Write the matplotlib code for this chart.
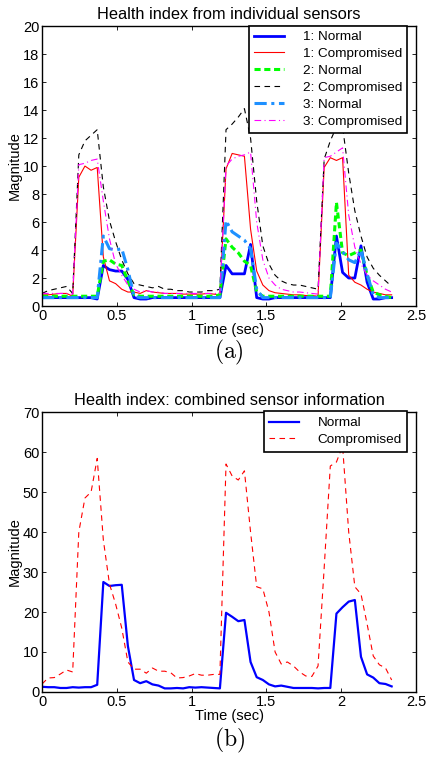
import numpy as np
import matplotlib.pyplot as plt
from matplotlib.ticker import FixedLocator

plt.rcParams['font.family'] = ['Liberation Sans', 'DejaVu Sans']
plt.rcParams['mathtext.fontset'] = 'cm'

# time grid (sec)
t = np.arange(58) * 0.041

# (a) health index from individual sensors
s1_normal = [0.6, 0.6, 0.6, 0.6, 0.6, 0.6, 0.6, 0.6, 0.6, 0.5,
             2.9, 2.6, 2.5, 2.5, 1.9, 0.6, 0.5, 0.5, 0.6, 0.6,
             0.6, 0.6, 0.6, 0.6, 0.6, 0.6, 0.6, 0.6, 0.6, 0.6,
             2.9, 2.3, 2.3, 2.3, 4.4, 0.6, 0.5, 0.5, 0.6, 0.6,
             0.6, 0.6, 0.6, 0.6, 0.6, 0.6, 0.6, 0.6, 5.0, 2.4,
             2.0, 2.0, 4.3, 1.7, 0.5, 0.5, 0.6, 0.6]
s1_comp = [0.8, 0.8, 0.85, 0.9, 0.9, 0.7, 9.2, 10.0, 9.7, 9.9,
           3.5, 1.8, 1.6, 1.2, 1.0, 1.0, 0.9, 1.1, 1.0, 0.95,
           0.9, 0.9, 0.9, 0.85, 0.85, 0.85, 0.85, 0.9, 0.85, 0.8,
           9.8, 10.9, 10.8, 10.7, 5.5, 2.5, 1.5, 1.1, 0.95, 0.9,
           0.85, 0.8, 0.8, 0.75, 0.75, 0.7, 9.9, 10.6, 10.4, 10.6,
           2.2, 1.7, 1.5, 1.2, 1.0, 0.9, 0.8, 0.8]
s2_normal = [0.7, 0.7, 0.7, 0.7, 0.7, 0.7, 0.7, 0.7, 0.7, 0.7,
             3.2, 3.3, 3.0, 2.9, 1.8, 0.8, 0.7, 0.7, 0.7, 0.7,
             0.7, 0.7, 0.7, 0.7, 0.7, 0.7, 0.7, 0.7, 0.7, 0.8,
             4.8, 4.2, 3.8, 3.2, 2.9, 1.0, 0.7, 0.7, 0.7, 0.7,
             0.7, 0.7, 0.7, 0.7, 0.7, 0.7, 0.7, 0.7, 7.4, 3.8,
             3.6, 3.8, 4.0, 2.2, 1.0, 0.8, 0.7, 0.6]
s2_comp = [0.9, 1.1, 1.2, 1.3, 1.4, 0.9, 10.8, 11.8, 12.2, 12.6,
           8.5, 6.1, 4.6, 3.3, 2.3, 1.6, 1.5, 1.4, 1.3, 1.4,
           1.2, 1.2, 1.1, 1.1, 1.0, 1.0, 1.0, 1.1, 1.1, 1.2,
           12.6, 13.0, 13.5, 14.1, 12.0, 7.5, 4.3, 3.0, 2.2, 1.8,
           1.6, 1.5, 1.5, 1.4, 1.3, 1.2, 10.5, 11.8, 12.8, 12.8,
           9.5, 6.8, 5.0, 3.5, 2.7, 2.2, 1.8, 1.4]
s3_normal = [0.6, 0.6, 0.6, 0.6, 0.6, 0.6, 0.6, 0.6, 0.6, 0.6,
             5.0, 4.1, 4.0, 4.1, 2.6, 0.7, 0.6, 0.6, 0.6, 0.6,
             0.6, 0.6, 0.6, 0.6, 0.6, 0.6, 0.6, 0.6, 0.6, 0.6,
             6.1, 5.3, 5.0, 4.7, 4.1, 1.2, 0.6, 0.6, 0.6, 0.6,
             0.6, 0.6, 0.6, 0.6, 0.6, 0.6, 0.6, 0.6, 4.5, 3.9,
             3.3, 3.1, 4.0, 2.3, 0.8, 0.6, 0.6, 0.6]
s3_comp = [0.9, 0.9, 0.9, 0.9, 0.9, 0.85, 10.1, 10.2, 10.4, 10.5,
           7.5, 4.8, 3.0, 2.2, 1.5, 1.2, 1.0, 1.1, 1.0, 1.0,
           0.9, 0.9, 0.9, 0.9, 0.9, 0.9, 0.9, 0.9, 0.9, 0.9,
           10.0, 10.5, 10.7, 10.8, 11.0, 6.0, 3.3, 2.0, 1.5, 1.2,
           1.1, 1.0, 1.0, 0.95, 0.9, 0.85, 10.6, 10.7, 11.0, 11.3,
           6.5, 4.2, 3.0, 2.2, 1.8, 1.5, 1.2, 1.0]

# (b) combined sensor information
comb_normal = [1.3, 1.2, 1.2, 1.0, 1.0, 1.2, 1.1, 1.2, 1.2, 1.8,
               27.5, 26.5, 26.7, 26.8, 11.5, 3.0, 2.2, 2.7, 1.9, 1.6,
               0.9, 0.9, 1.0, 0.9, 1.2, 1.1, 1.2, 1.1, 1.0, 0.9,
               19.8, 18.8, 17.7, 18.0, 7.5, 3.7, 3.0, 1.9, 1.4, 1.6,
               1.3, 1.0, 1.0, 1.0, 1.0, 0.9, 1.0, 1.0, 19.6, 21.2,
               22.6, 23.0, 8.8, 4.4, 3.6, 2.2, 2.0, 1.4]
comb_comp = [2.0, 3.5, 3.6, 4.5, 5.5, 5.0, 40.0, 48.5, 50.0, 58.4,
             38.0, 27.0, 22.0, 16.0, 7.5, 5.7, 5.7, 4.7, 6.0, 5.2,
             5.2, 4.8, 3.5, 3.6, 4.0, 4.6, 4.2, 4.2, 4.4, 4.4,
             57.0, 54.0, 53.0, 55.3, 40.0, 26.3, 25.8, 20.0, 10.0, 7.0,
             7.5, 6.5, 5.0, 4.0, 3.9, 6.5, 31.0, 56.5, 57.5, 61.5,
             40.0, 26.3, 24.5, 17.0, 9.0, 6.8, 6.0, 3.0]

xticks = [0, 0.5, 1, 1.5, 2, 2.5]
xticklabels = ['0', '0.5', '1', '1.5', '2', '2.5']

fig = plt.figure(figsize=(4.26, 7.67), dpi=100)
ax1 = fig.add_axes([0.0986, 0.601, 0.878, 0.365])
ax2 = fig.add_axes([0.0986, 0.0978, 0.878, 0.365])

ax1.plot(t, s1_normal, color='#0000ff', lw=2.0, label='1: Normal')
ax1.plot(t, s1_comp, color='#ff0000', lw=0.8, label='1: Compromised')
ax1.plot(t, s2_normal, color='#00ff00', lw=2.2, ls=(0, (2.0, 1.2)), label='2: Normal')
ax1.plot(t, s2_comp, color='black', lw=0.8, ls=(0, (5, 4)), label='2: Compromised')
ax1.plot(t, s3_normal, color='#1e90ff', lw=2.2, ls=(0, (4, 1.5, 1, 1.5)), label='3: Normal')
ax1.plot(t, s3_comp, color='#ff00ff', lw=0.8, ls=(0, (6, 3, 1, 3)), label='3: Compromised')

ax2.plot(t, comb_normal, color='#0000ff', lw=1.6, label='Normal')
ax2.plot(t, comb_comp, color='#ff0000', lw=0.8, ls=(0, (5, 4)), label='Compromised')

for ax, ymax, ystep in [(ax1, 20, 2), (ax2, 70, 10)]:
    ax.set_xlim(0, 2.5)
    ax.set_ylim(0, ymax)
    ax.xaxis.set_major_locator(FixedLocator(xticks))
    ax.set_xticklabels(xticklabels)
    ax.set_yticks(np.arange(0, ymax + 1, ystep))
    ax.tick_params(direction='in', top=True, right=True, length=3, width=0.6,
                   labelsize=10.5, pad=2)
    for sp in ax.spines.values():
        sp.set_linewidth(1.0)
    ax.set_xlabel('Time (sec)', fontsize=10.5, labelpad=0)
    ax.set_ylabel('Magnitude', fontsize=10.5, labelpad=1)

ax1.set_title('Health index from individual sensors', fontsize=11.8, pad=5)
ax2.set_title('Health index: combined sensor information', fontsize=11.8, pad=5)

leg_kw = dict(loc='upper right', bbox_to_anchor=(0.977, 1.002), fontsize=9.7,
              handlelength=2.2, handletextpad=1.4, labelspacing=0.33,
              borderpad=0.4, borderaxespad=0, fancybox=False, framealpha=1,
              edgecolor='black')
leg1 = ax1.legend(**leg_kw)
leg1.get_frame().set_linewidth(1.2)
leg2 = ax2.legend(**leg_kw)
leg2.get_frame().set_linewidth(1.2)

fig.text(0.538, 0.541, r'$\mathrm{(a)}$', ha='center', va='center', fontsize=17)
fig.text(0.538, 0.035, r'$\mathrm{(b)}$', ha='center', va='center', fontsize=17)

fig.savefig('out.png', dpi=100)
